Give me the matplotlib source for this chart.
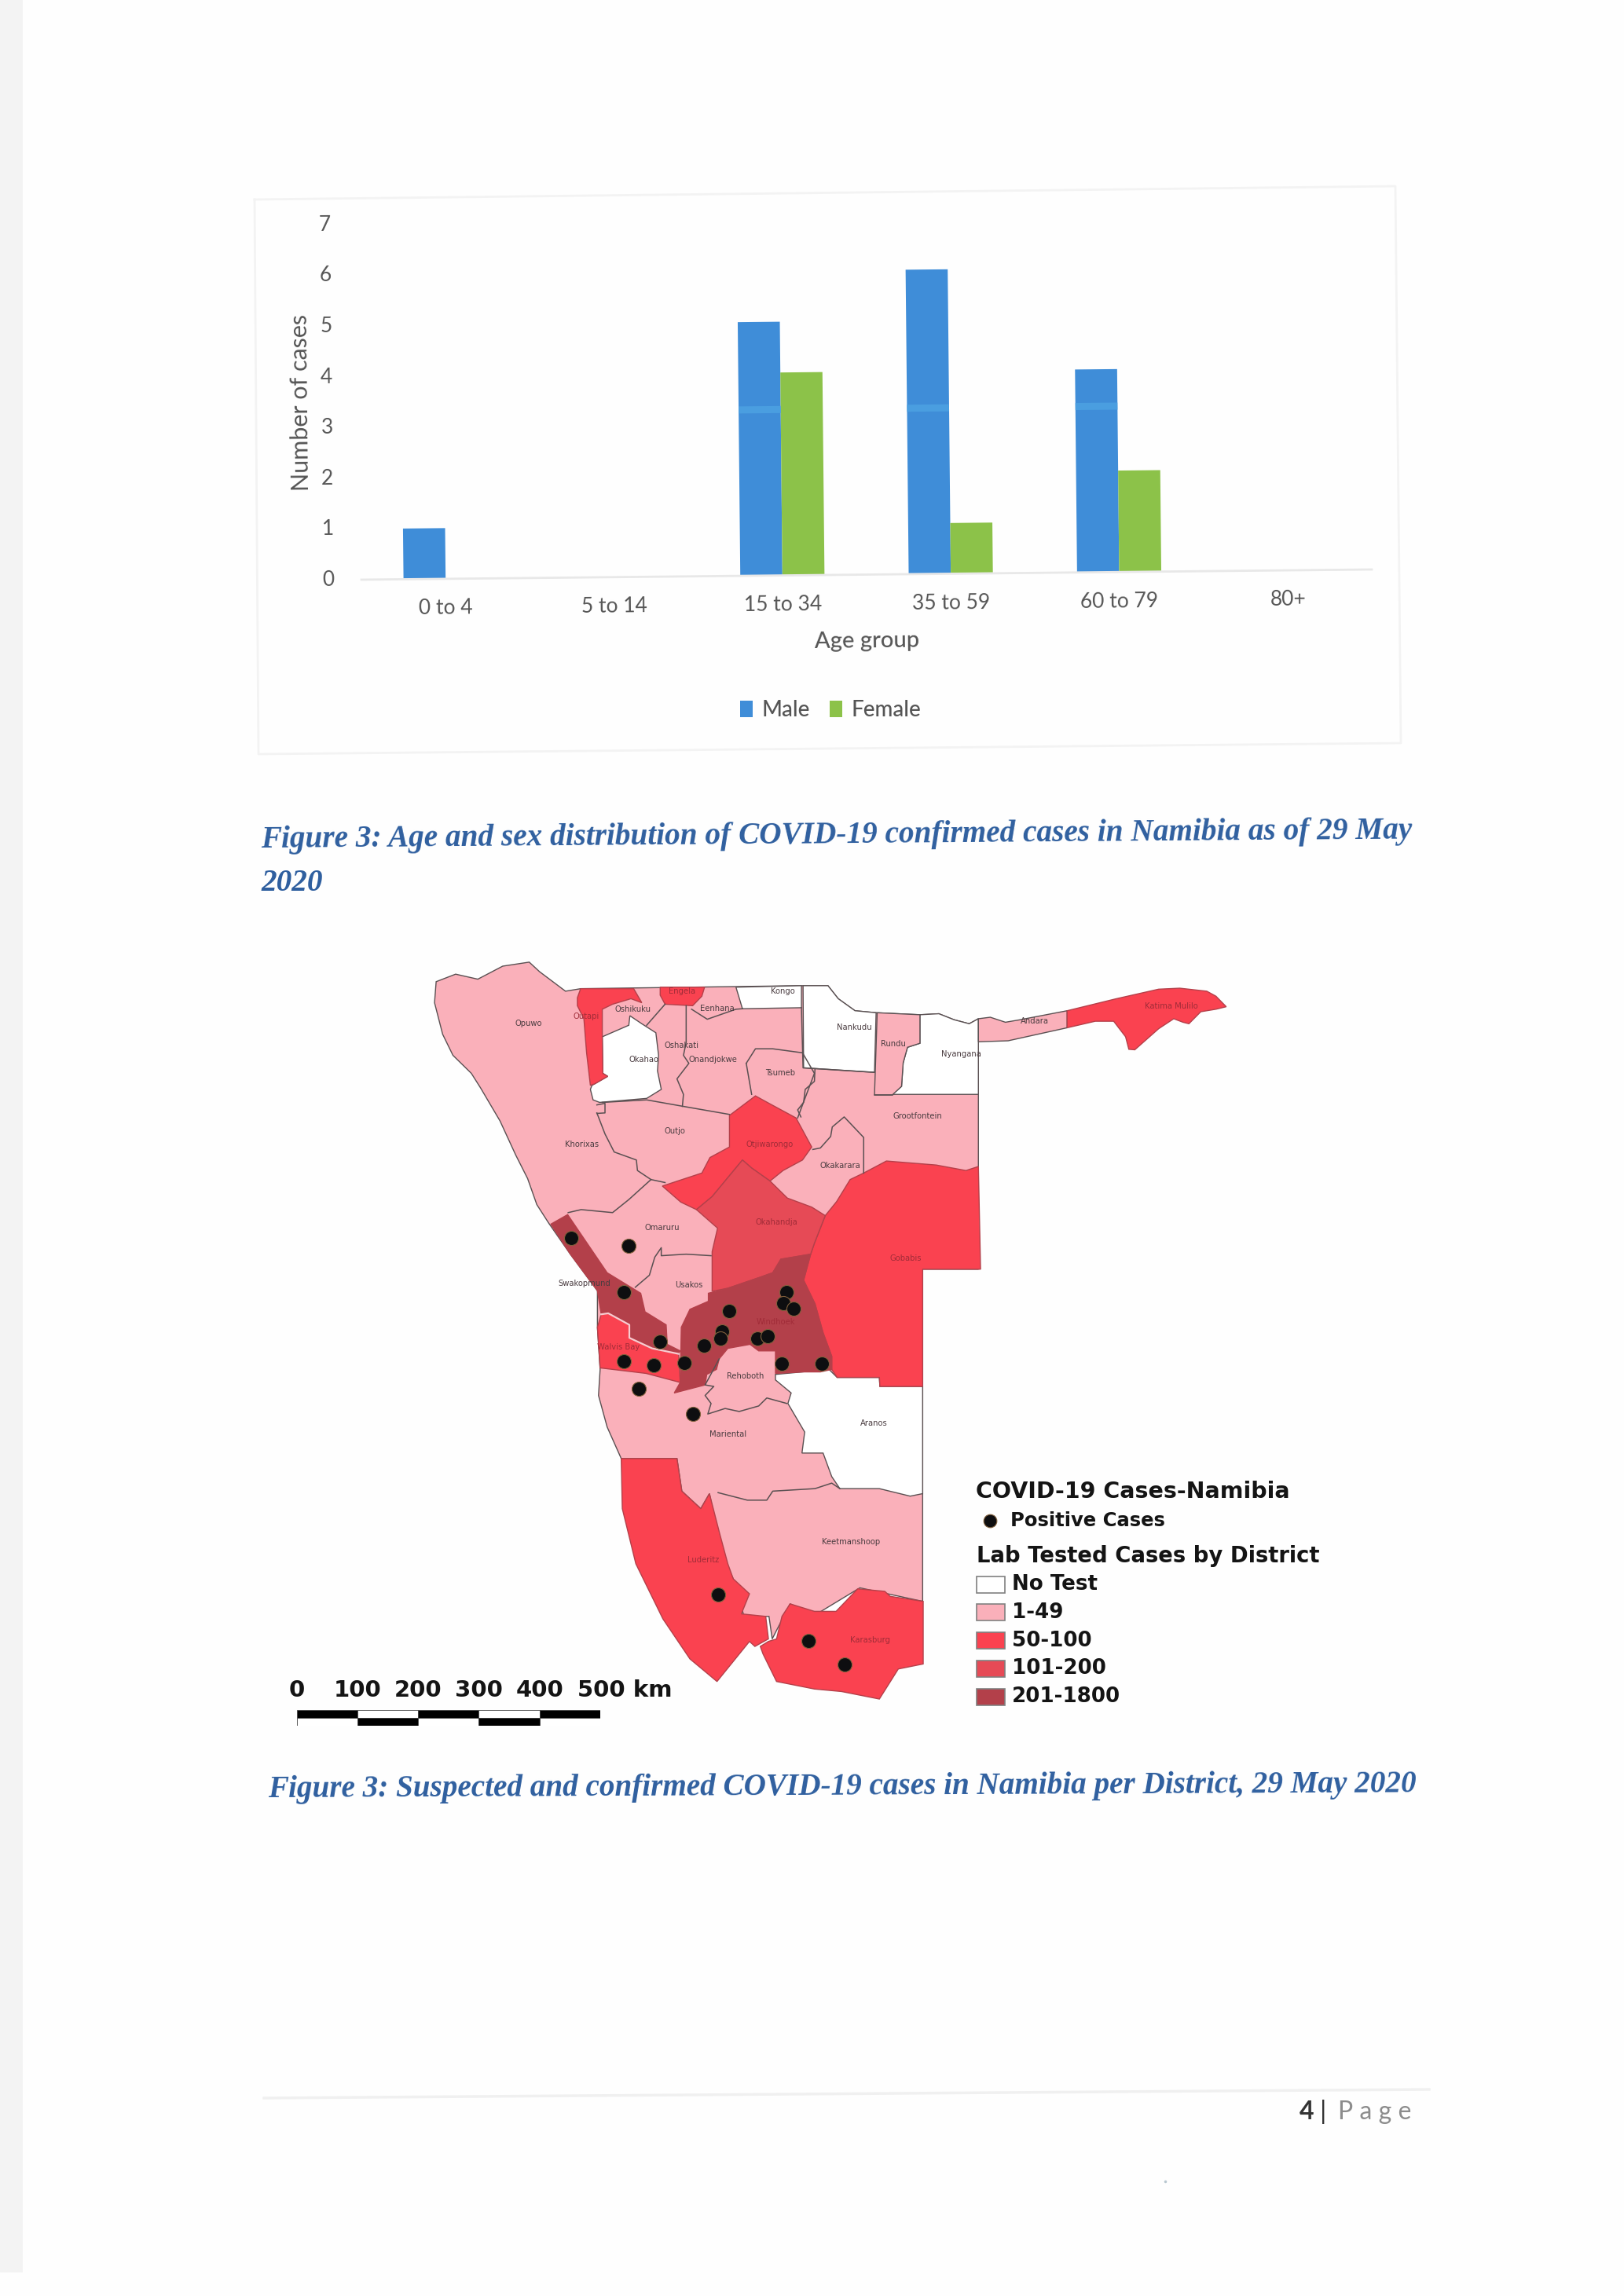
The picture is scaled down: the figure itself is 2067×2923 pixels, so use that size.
# Page 4 of the situation report: bar chart, district map, captions and footer
import matplotlib
matplotlib.use("Agg")
import matplotlib.pyplot as plt
from matplotlib.patches import Polygon, Rectangle
from matplotlib.transforms import Affine2D

W, H = 2067, 2923

# Bar chart data
ageGroups = ["0 to 4", "5 to 14", "15 to 34", "35 to 59", "60 to 79", "80+"]
maleCases = [1, 0, 5, 6, 4, 0]
femaleCases = [0, 0, 4, 1, 2, 0]
yTicks = [0, 1, 2, 3, 4, 5, 6, 7]

# Map legend classes
classLabels = ["No Test", "1-49", "50-100", "101-200", "201-1800"]
classColors = ["#ffffff", "#fab0ba", "#fa4250", "#e64a56", "#b3404a"]

# Map shapes (map units run 0-1568 both ways)
country = [(51, 78), (87, 63), (128, 73), (174, 47), (223, 39), (242, 58), (290, 97), (318, 92), (726, 86), (775, 86),
           (794, 112), (825, 136), (864, 140), (945, 144), (980, 142), (1008, 154), (1036, 162), (1053, 152),
           (1053, 652), (950, 652), (950, 1315), (834, 1288), (750, 1343), (705, 1320), (672, 1390), (666, 1345),
           (620, 1345), (600, 1270), (581, 1228), (556, 1100), (540, 1130), (505, 1095), (496, 1030), (393, 1030),
           (367, 967), (351, 904), (354, 852), (349, 768), (349, 695), (299, 622), (259, 560), (237, 523), (220, 471),
           (198, 424), (169, 356), (133, 290), (116, 261), (82, 225), (63, 183), (48, 120)]
andara = [(1053, 152), (1075, 149), (1103, 159), (1130, 154), (1217, 136), (1217, 170), (1108, 196), (1053, 198)]
rundu = [(866, 140), (945, 144), (945, 201), (922, 209), (914, 240), (911, 287), (894, 304), (861, 304)]

okahao = [(409, 146), (431, 162), (457, 180), (462, 225), (460, 256), (467, 293), (440, 311), (407, 314), (353, 319),
          (341, 314), (336, 293), (339, 285), (368, 267), (359, 261), (358, 188), (407, 165)]
kongo = [(605, 89), (726, 86), (726, 130), (617, 132)]
nankudu = [(729, 86), (775, 86), (794, 112), (825, 136), (864, 140), (861, 259), (730, 250)]
nyangana = [(945, 144), (980, 142), (1008, 154), (1036, 162), (1053, 152), (1053, 303), (894, 303), (911, 287),
            (914, 240), (922, 209), (945, 201)]
aranos = [(678, 862), (777, 852), (792, 868), (870, 868), (871, 886), (950, 886), (950, 1100), (927, 1105), (870, 1090),
          (797, 1090), (782, 1066), (766, 1019), (727, 1019), (732, 977), (701, 920), (707, 899), (678, 873)]

outapi = [(318, 92), (416, 92), (431, 120), (411, 112), (377, 123), (358, 133), (358, 188), (359, 261), (368, 267),
          (344, 282), (336, 285), (329, 220), (324, 152), (312, 126), (312, 110)]
engela = [(465, 89), (547, 89), (542, 107), (525, 126), (474, 123), (465, 105)]
katima = [(1217, 136), (1308, 112), (1386, 93), (1425, 91), (1475, 97), (1492, 107), (1511, 128), (1492, 133),
          (1464, 138), (1442, 162), (1431, 159), (1414, 152), (1386, 172), (1342, 214), (1331, 213), (1325, 188),
          (1303, 157), (1269, 157), (1217, 170)]
otjiwarongo = [(593, 345), (641, 306), (668, 322), (716, 350), (745, 408), (728, 434), (692, 455), (668, 476),
               (634, 450), (617, 434), (561, 507), (532, 533), (503, 518), (469, 486), (542, 460), (557, 429), (593, 408)]
gobabis = [(1053, 447), (1030, 455), (975, 444), (883, 436), (841, 460), (816, 473), (791, 517), (770, 545), (750, 600),
           (743, 622), (730, 674), (751, 721), (766, 779), (782, 826), (782, 852), (792, 868), (870, 868), (871, 886),
           (950, 886), (950, 652), (1057, 652)]
walvisBay = [(356, 742), (369, 740), (408, 763), (408, 789), (450, 810), (499, 821), (502, 878), (439, 860), (354, 849),
             (349, 768)]
luderitz = [(393, 1030), (496, 1030), (505, 1095), (540, 1130), (556, 1100), (575, 1180), (590, 1240), (600, 1270),
            (630, 1300), (615, 1340), (660, 1345), (665, 1390), (640, 1405), (630, 1395), (570, 1475), (520, 1430),
            (470, 1350), (420, 1240), (395, 1130)]
karasburg = [(951, 1315), (890, 1305), (880, 1295), (830, 1290), (790, 1335), (750, 1335), (705, 1320), (690, 1345),
             (680, 1390), (665, 1395), (650, 1405), (655, 1420), (680, 1475), (750, 1490), (800, 1495), (870, 1510),
             (905, 1450), (951, 1440)]

okahandja = [(617, 434), (634, 450), (668, 476), (700, 510), (745, 528), (770, 545), (750, 600), (743, 622), (688, 632),
             (673, 659), (647, 669), (590, 690), (561, 696), (561, 617), (571, 570), (532, 533), (561, 507)]

windhoek = [(743, 622), (730, 674), (751, 721), (766, 779), (782, 826), (782, 852), (761, 857), (730, 857), (678, 860),
            (678, 815), (647, 815), (631, 802), (590, 810), (574, 831), (569, 852), (551, 862), (548, 883), (491, 899),
            (502, 878), (504, 768), (520, 732), (554, 716), (554, 700), (590, 690), (647, 669), (673, 659), (688, 632)]
swakopmund = [(263, 562), (294, 543), (367, 659), (429, 700), (437, 737), (476, 763), (478, 802), (502, 815), (499, 821),
              (450, 810), (408, 789), (408, 763), (369, 740), (356, 742), (349, 695), (299, 622)]

districtShapes = [(okahao, 0), (kongo, 0), (nankudu, 0), (nyangana, 0), (aranos, 0), (rundu, 1), (andara, 1),
                  (outapi, 2), (engela, 2), (katima, 2), (otjiwarongo, 2), (gobabis, 2), (walvisBay, 2), (luderitz, 2),
                  (karasburg, 2), (okahandja, 3), (windhoek, 4), (swakopmund, 4)]

# Inner district borders that are not the edge of a coloured shape
borderLines = [
    [(295, 539), (319, 533), (377, 539), (407, 513), (448, 473)],
    [(348, 340), (363, 382), (380, 418), (421, 434), (423, 455), (448, 473), (474, 479)],
    [(358, 319), (440, 314), (508, 327), (593, 343)],
    [(348, 324), (363, 321), (363, 340), (348, 341)],
    [(419, 688), (445, 664), (455, 628), (467, 609), (467, 625), (513, 622), (559, 625)],
    [(574, 831), (548, 883), (564, 886), (548, 904), (559, 920), (553, 941), (585, 930), (611, 936), (647, 925),
     (662, 909), (699, 920)],
    [(572, 1098), (626, 1113), (662, 1113), (673, 1095), (751, 1090), (782, 1079), (797, 1090)],
    [(440, 165), (474, 123)],
    [(513, 126), (513, 199), (508, 225), (518, 241), (496, 272), (508, 303), (506, 327)],
    [(523, 133), (552, 153), (605, 133), (617, 132)],
    [(624, 241), (641, 212), (673, 212), (728, 220), (750, 261), (728, 324), (719, 350)],
    [(624, 241), (634, 303)],
    [(747, 413), (761, 410), (780, 387), (783, 368), (805, 348), (841, 389), (841, 460)],
    [(751, 253), (750, 277), (733, 293), (730, 319), (719, 334), (725, 348)],
    [(726, 130), (729, 250), (861, 259)],
    [(861, 304), (894, 304)],
]

# Positive cases
caseX = [300, 406, 398, 465, 592, 698, 692, 712, 580, 576, 546, 645, 664, 398, 453, 510, 690, 763, 426, 525, 572, 739, 806]
caseY = [590, 606, 697, 797, 735, 698, 720, 730, 776, 790, 805, 790, 786, 835, 844, 839, 841, 841, 890, 941, 1301, 1394, 1441]

# District names on the map
districtNames = ["Opuwo", "Outapi", "Oshikuku", "Engela", "Eenhana", "Kongo", "Nankudu", "Rundu", "Nyangana", "Andara",
                 "Katima Mulilo", "Okahao", "Oshakati", "Onandjokwe", "Tsumeb", "Grootfontein", "Outjo", "Khorixas",
                 "Otjiwarongo", "Okakarara", "Omaruru", "Okahandja", "Gobabis", "Usakos", "Swakopmund", "Windhoek",
                 "Walvis Bay", "Rehoboth", "Aranos", "Mariental", "Keetmanshoop", "Luderitz", "Karasburg"]
nameX = [222, 328, 415, 505, 570, 692, 823, 895, 1022, 1157, 1410, 435, 505, 563, 687, 940, 492, 320, 668, 797, 468, 680,
         918, 518, 325, 678, 388, 622, 860, 590, 818, 545, 853]
nameY = [162, 148, 133, 97, 131, 97, 170, 203, 222, 157, 127, 233, 205, 233, 261, 346, 377, 403, 403, 446, 569, 558, 630,
         684, 681, 757, 808, 865, 960, 981, 1197, 1233, 1392]
darkNames = ["Outapi", "Engela", "Katima Mulilo", "Otjiwarongo", "Okahandja", "Gobabis", "Windhoek", "Walvis Bay",
             "Luderitz", "Karasburg"]

# Scale bar
scaleKm = [0, 100, 200, 300, 400, 500]

fig = plt.figure(figsize=(W / 100, H / 100), dpi=100, facecolor="#fefefe")

# Page layer in image pixels
page = fig.add_axes([0, 0, 1, 1])
page.set_xlim(0, W)
page.set_ylim(H, 0)
page.axis("off")
page.add_patch(Rectangle((0, 0), 29, 2893, color="#f3f3f3", lw=0))
page.plot([324, 1776, 1783, 329, 324], [254, 237, 946, 960, 254], color="#f3f3f3", lw=2)

captionColor = "#2f5f9f"
captionFont = dict(family="Liberation Serif", weight="bold", style="italic", color=captionColor, fontsize=28.3,
                   va="center", ha="left", rotation_mode="anchor")
page.text(332, 1070, "Figure 3: Age and sex distribution of COVID-19 confirmed cases in Namibia as of 29 May",
          rotation=0.45, **captionFont)
page.text(332, 1125, "2020", **captionFont)
page.text(341, 2279, "Figure 3: Suspected and confirmed COVID-19 cases in Namibia per District, 29 May 2020",
          rotation=0.26, fontdict={"size": 28.2}, **{k: v for k, v in captionFont.items() if k != "fontsize"})

# Footer
page.plot([336, 1819], [2671, 2660], color="#f0f0f0", lw=2.5)
page.text(1654, 2689, "4", family="Lato", weight="bold", fontsize=23, color="#333333", va="center")
page.text(1680, 2689, "|", family="Lato", fontsize=24, color="#333333", va="center")
page.text(1703, 2689, "P a g e", family="Lato", fontsize=23, color="#8c8c8c", va="center")
page.plot([1483], [2777], marker="o", ms=1.5, color="#b8c8d0")

# Bar chart, the scan leans a little so everything goes through a small rotation
chart = fig.add_axes([460 / W, 1 - 738 / H, 1286 / W, 452.2 / H])
chart.set_xlim(-0.5, 5.5)
chart.set_ylim(0, 7)
chart.axis("off")
chart.patch.set_alpha(0)
lean = 0.58
tilt = chart.transData + Affine2D().rotate_deg_around(460, H - 738, lean)

barWidth = 0.25
xPos = list(range(len(ageGroups)))
maleBars = chart.bar([x - barWidth / 2 for x in xPos], maleCases, barWidth, color="#3f8dd8", transform=tilt,
                     clip_on=False, label="Male")
femaleBars = chart.bar([x + barWidth / 2 for x in xPos], femaleCases, barWidth, color="#8cc249", transform=tilt,
                       clip_on=False, label="Female")
# Lighter streak the scanner left across the tall blue bars
for x, v in zip(xPos, maleCases):
    if v > 3.4:
        chart.bar(x - barWidth / 2, 0.14, barWidth, bottom=3.2, color="#4a9ee0", transform=tilt, clip_on=False)
chart.plot([-0.5, 5.5], [0, 0], color="#e8e8e8", lw=2, transform=tilt, clip_on=False)

textColor = "#555555"
for x, name in zip(xPos, ageGroups):
    chart.text(x, -0.58, name, transform=tilt, rotation=lean, rotation_mode="anchor", ha="center", va="center",
               family="Lato", fontsize=19, color=textColor)
for y in yTicks:
    chart.text(-0.696, y, str(y), transform=tilt, rotation=lean, rotation_mode="anchor", ha="center", va="center",
               family="Lato", fontsize=19, color=textColor)
chart.text(2.5, -1.32, "Age group", transform=tilt, rotation=lean, rotation_mode="anchor", ha="center", va="center",
           family="Lato", weight="medium", fontsize=21, color=textColor)
chart.text(-0.85, 3.5, "Number of cases", transform=tilt, rotation=90 + lean, rotation_mode="anchor", ha="center",
           va="center", family="Lato", fontsize=22, color=textColor)
chart.legend(handles=[maleBars, femaleBars], loc="center", bbox_to_anchor=(1057 / W, 1 - 904 / H),
             bbox_transform=fig.transFigure, ncol=2, frameon=False, handlelength=0.6, handleheight=0.8,
             handletextpad=0.4, columnspacing=0.9, prop={"family": "Lato", "size": 20, "weight": "medium"},
             labelcolor=textColor)

# District map
mapAx = fig.add_axes([520 / W, 1 - 2200 / H, 1080 / W, 1000 / H])
mapAx.set_xlim(0, 1568)
mapAx.set_ylim(1568, 0)
mapAx.axis("off")
mapAx.patch.set_alpha(0)

lineColor = "#5a5052"
mapAx.add_patch(Polygon(country, closed=True, facecolor=classColors[1], edgecolor=lineColor, lw=1))
for shape, cls in districtShapes:
    edge = "#b4404a" if cls >= 2 else lineColor
    mapAx.add_patch(Polygon(shape, closed=True, facecolor=classColors[cls], edgecolor=edge, lw=1))
for line in borderLines:
    mapAx.plot([p[0] for p in line], [p[1] for p in line], color=lineColor, lw=1.1)
mapAx.plot([356, 369, 408, 408, 450, 499], [742, 740, 763, 789, 810, 821], color="#f8ccd0", lw=1.6)

for name, x, y in zip(districtNames, nameX, nameY):
    mapAx.text(x, y, name, ha="center", va="center", fontsize=7.2,
               color="#a02c38" if name in darkNames else "#4a3c40")

mapAx.plot(caseX, caseY, ls="none", marker="o", ms=13, mfc="#0e0e10", mec="#80603c", mew=0.8)

# Map legend
legendFont = dict(family="DejaVu Sans", weight="bold", color="#141414", va="center", ha="left")
page.text(1242, 1899, "COVID-19 Cases-Namibia", fontsize=20.5, **legendFont)
page.plot([1260], [1936], marker="o", ms=12, mfc="#0e0e10", mec="#80603c", mew=0.8)
page.text(1286, 1936, "Positive Cases", fontsize=17.5, **legendFont)
page.text(1243, 1981, "Lab Tested Cases by District", fontsize=19.8, **legendFont)
for i, (label, color) in enumerate(zip(classLabels, classColors)):
    yc = 2017 + i * 35.8
    page.add_patch(Rectangle((1243, yc - 10.5), 36, 21, facecolor=color, edgecolor="#808080", lw=1.2))
    page.text(1288, yc, label, fontsize=18.8, **legendFont)

# Scale bar, two rows of alternating black and white blocks
scale = fig.add_axes([377.5 / W, 1 - 2197 / H, 386.5 / W, 20 / H])
scale.set_xlim(0, 500)
scale.set_ylim(0, 2)
scale.axis("off")
for i in range(len(scaleKm) - 1):
    topColor = "black" if i % 2 == 0 else "white"
    lowColor = "white" if i % 2 == 0 else "black"
    scale.bar(scaleKm[i], 1, 100, bottom=1, align="edge", color=topColor, edgecolor="#444444", lw=0.6)
    scale.bar(scaleKm[i], 1, 100, bottom=0, align="edge", color=lowColor, edgecolor="#444444", lw=0.6)
for km in scaleKm:
    label = f"{km} km" if km == scaleKm[-1] else str(km)
    scale.text(km, 4.5, label, ha="left" if km == scaleKm[-1] else "center", va="center", fontsize=21,
               family="DejaVu Sans", weight="bold", color="#141414", clip_on=False)
# 500 km starts left of its tick
scale.texts[-1].set_x(scaleKm[-1] - 38)

fig.savefig("out.png", dpi=100, facecolor=fig.get_facecolor())
